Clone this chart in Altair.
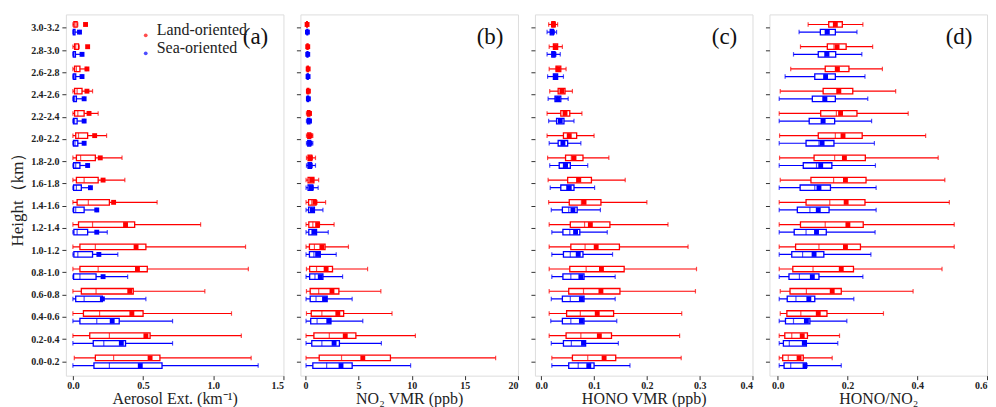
import altair as alt
import pandas as pd

HEIGHTS = ["0.0-0.2", "0.2-0.4", "0.4-0.6", "0.6-0.8", "0.8-1.0", "1.0-1.2", "1.2-1.4", "1.4-1.6",
           "1.6-1.8", "1.8-2.0", "2.0-2.2", "2.2-2.4", "2.4-2.6", "2.6-2.8", "2.8-3.0", "3.0-3.2"]
GROUPS = ["Land-oriented", "Sea-oriented"]
COLORS = ["#ff0000", "#0000ff"]

# each row: (whisker low, q1, median, q3, whisker high, mean), bottom (0.0-0.2) to top (3.0-3.2)
AER_LAND = [(0.01, 0.16, 0.29, 0.62, 1.27, 0.55), (0.0, 0.12, 0.26, 0.55, 1.20, 0.52),
            (0.0, 0.075, 0.19, 0.50, 1.13, 0.42), (0.0, 0.06, 0.165, 0.43, 0.94, 0.405),
            (0.0, 0.05, 0.18, 0.53, 1.25, 0.46), (0.0, 0.05, 0.16, 0.52, 1.23, 0.45),
            (0.0, 0.04, 0.14, 0.44, 0.91, 0.375), (0.0, 0.03, 0.11, 0.26, 0.60, 0.29),
            (0.0, 0.025, 0.08, 0.18, 0.37, 0.215), (0.0, 0.025, 0.055, 0.16, 0.35, 0.195),
            (0.0, 0.02, 0.04, 0.105, 0.24, 0.155), (0.0, 0.012, 0.035, 0.08, 0.18, 0.115),
            (0.0, 0.012, 0.03, 0.065, 0.14, 0.10), (0.0, 0.012, 0.025, 0.05, 0.095, 0.10),
            (0.0, 0.012, 0.02, 0.04, 0.045, 0.105), (0.0, 0.007, 0.015, 0.03, 0.035, 0.09)]
AER_SEA = [(0.0, 0.15, 0.26, 0.635, 1.32, 0.48), (0.0, 0.145, 0.22, 0.375, 0.71, 0.345),
           (0.0, 0.05, 0.17, 0.33, 0.71, 0.28), (0.0, 0.02, 0.08, 0.21, 0.52, 0.21),
           (0.0, 0.005, 0.05, 0.165, 0.39, 0.215), (0.0, 0.007, 0.035, 0.14, 0.32, 0.185),
           (0.0, 0.007, 0.03, 0.105, 0.245, 0.17), (0.0, 0.005, 0.02, 0.08, 0.17, 0.17),
           (0.0, 0.005, 0.025, 0.06, 0.125, 0.125), (0.0, 0.005, 0.02, 0.05, 0.105, 0.105),
           (0.0, 0.004, 0.015, 0.035, 0.08, 0.08), (0.0, 0.004, 0.012, 0.03, 0.08, 0.08),
           (0.0, 0.004, 0.012, 0.025, 0.08, 0.08), (0.0, 0.003, 0.01, 0.02, 0.065, 0.065),
           (0.0, 0.003, 0.008, 0.018, 0.065, 0.065), (0.0, 0.003, 0.008, 0.015, 0.047, 0.047)]

NO2_LAND = [(0.06, 1.3, 3.4, 8.0, 17.9, 5.4), (0.06, 0.8, 2.25, 4.75, 10.35, 3.75),
            (0.1, 0.55, 1.55, 3.6, 8.15, 3.05), (0.1, 0.45, 1.25, 3.15, 7.1, 2.5),
            (0.1, 0.4, 1.05, 2.55, 5.85, 1.95), (0.06, 0.38, 0.85, 1.85, 4.05, 1.55),
            (0.06, 0.32, 0.7, 1.3, 2.7, 1.15), (0.06, 0.3, 0.6, 1.0, 1.9, 0.9),
            (0.06, 0.25, 0.45, 0.8, 1.25, 0.6), (0.1, 0.25, 0.38, 0.6, 0.95, 0.47),
            (0.1, 0.22, 0.32, 0.5, 0.7, 0.45), (0.1, 0.2, 0.28, 0.42, 0.55, 0.38),
            (0.12, 0.18, 0.24, 0.32, 0.4, 0.28), (0.12, 0.17, 0.22, 0.28, 0.35, 0.26),
            (0.1, 0.15, 0.2, 0.25, 0.3, 0.22), (0.08, 0.12, 0.15, 0.18, 0.22, 0.16)]
NO2_SEA = [(0.06, 0.7, 2.0, 4.4, 9.9, 3.35), (0.06, 0.6, 1.55, 3.2, 7.15, 2.7),
           (0.06, 0.5, 1.1, 2.4, 5.4, 2.2), (0.06, 0.45, 1.0, 2.05, 4.4, 1.8),
           (0.06, 0.4, 0.9, 1.65, 3.5, 1.4), (0.06, 0.38, 0.8, 1.4, 2.9, 1.15),
           (0.06, 0.32, 0.6, 1.05, 2.15, 0.85), (0.06, 0.3, 0.55, 0.85, 1.65, 0.65),
           (0.06, 0.25, 0.45, 0.7, 1.2, 0.55), (0.1, 0.25, 0.38, 0.58, 0.95, 0.45),
           (0.1, 0.22, 0.32, 0.5, 0.7, 0.43), (0.1, 0.2, 0.28, 0.42, 0.55, 0.38),
           (0.12, 0.18, 0.25, 0.3, 0.35, 0.28), (0.12, 0.17, 0.22, 0.27, 0.32, 0.25),
           (0.1, 0.15, 0.2, 0.24, 0.28, 0.22), (0.1, 0.14, 0.18, 0.22, 0.26, 0.19)]

HONO_LAND = [(0.02, 0.059, 0.088, 0.141, 0.265, 0.119), (0.015, 0.047, 0.075, 0.133, 0.262, 0.11),
             (0.015, 0.048, 0.074, 0.137, 0.266, 0.106), (0.015, 0.052, 0.08, 0.149, 0.292, 0.113),
             (0.015, 0.054, 0.085, 0.157, 0.294, 0.114), (0.015, 0.056, 0.083, 0.148, 0.278, 0.104),
             (0.015, 0.055, 0.082, 0.13, 0.24, 0.093), (0.014, 0.053, 0.076, 0.113, 0.2, 0.081),
             (0.013, 0.05, 0.067, 0.095, 0.159, 0.071), (0.012, 0.046, 0.057, 0.079, 0.128, 0.062),
             (0.011, 0.042, 0.051, 0.067, 0.1, 0.053), (0.011, 0.037, 0.043, 0.054, 0.077, 0.045),
             (0.016, 0.032, 0.037, 0.045, 0.059, 0.039), (0.015, 0.028, 0.031, 0.037, 0.047, 0.032),
             (0.015, 0.023, 0.026, 0.031, 0.04, 0.027), (0.014, 0.02, 0.022, 0.026, 0.031, 0.023)]
HONO_SEA = [(0.02, 0.052, 0.07, 0.1, 0.168, 0.09), (0.019, 0.042, 0.057, 0.084, 0.146, 0.08),
            (0.018, 0.04, 0.056, 0.081, 0.143, 0.076), (0.019, 0.04, 0.055, 0.081, 0.14, 0.076),
            (0.02, 0.041, 0.056, 0.081, 0.14, 0.075), (0.02, 0.042, 0.055, 0.079, 0.135, 0.07),
            (0.02, 0.041, 0.054, 0.073, 0.125, 0.065), (0.019, 0.04, 0.052, 0.068, 0.112, 0.06),
            (0.017, 0.037, 0.048, 0.062, 0.101, 0.053), (0.016, 0.034, 0.042, 0.055, 0.088, 0.046),
            (0.015, 0.032, 0.039, 0.05, 0.075, 0.041), (0.014, 0.029, 0.034, 0.043, 0.062, 0.036),
            (0.013, 0.026, 0.031, 0.037, 0.051, 0.031), (0.012, 0.023, 0.026, 0.031, 0.042, 0.027),
            (0.011, 0.02, 0.023, 0.026, 0.036, 0.024), (0.011, 0.017, 0.02, 0.023, 0.029, 0.021)]

RATIO_LAND = [(0.004, 0.014, 0.03, 0.073, 0.156, 0.061), (0.004, 0.02, 0.04, 0.085, 0.177, 0.07),
              (0.007, 0.026, 0.066, 0.141, 0.303, 0.116), (0.007, 0.035, 0.082, 0.182, 0.388, 0.156),
              (0.004, 0.043, 0.101, 0.217, 0.471, 0.182), (0.004, 0.051, 0.118, 0.237, 0.506, 0.194),
              (0.004, 0.065, 0.136, 0.245, 0.506, 0.201), (0.004, 0.081, 0.149, 0.25, 0.492, 0.196),
              (0.007, 0.095, 0.16, 0.253, 0.479, 0.194), (0.005, 0.104, 0.163, 0.251, 0.46, 0.191),
              (0.005, 0.116, 0.165, 0.242, 0.424, 0.187), (0.004, 0.123, 0.168, 0.227, 0.374, 0.18),
              (0.007, 0.13, 0.17, 0.215, 0.338, 0.175), (0.037, 0.136, 0.165, 0.204, 0.3, 0.171),
              (0.065, 0.142, 0.161, 0.196, 0.272, 0.17), (0.087, 0.146, 0.16, 0.185, 0.244, 0.165)]
RATIO_SEA = [(0.004, 0.018, 0.037, 0.082, 0.182, 0.078), (0.004, 0.016, 0.033, 0.082, 0.172, 0.076),
             (0.004, 0.022, 0.045, 0.092, 0.198, 0.082), (0.004, 0.027, 0.052, 0.106, 0.218, 0.089),
             (0.004, 0.032, 0.062, 0.118, 0.244, 0.099), (0.004, 0.04, 0.071, 0.132, 0.267, 0.104),
             (0.004, 0.047, 0.081, 0.139, 0.279, 0.111), (0.004, 0.056, 0.092, 0.147, 0.282, 0.116),
             (0.004, 0.064, 0.106, 0.151, 0.282, 0.118), (0.004, 0.073, 0.111, 0.155, 0.28, 0.123),
             (0.004, 0.081, 0.118, 0.161, 0.277, 0.127), (0.004, 0.09, 0.125, 0.163, 0.269, 0.13),
             (0.004, 0.099, 0.13, 0.165, 0.258, 0.135), (0.021, 0.106, 0.135, 0.165, 0.25, 0.137),
             (0.045, 0.116, 0.135, 0.166, 0.241, 0.141), (0.061, 0.122, 0.136, 0.165, 0.227, 0.142)]

FONT = "Liberation Serif"
W, H = 218, 362


def make_df(land, sea):
    rows = []
    for grp, vals in ((GROUPS[0], land), (GROUPS[1], sea)):
        for h, (lo, q1, md, q3, hi, mn) in zip(HEIGHTS, vals):
            rows.append(dict(height=h, group=grp, low=lo, q1=q1, med=md, q3=q3, high=hi, mean=mn))
    return pd.DataFrame(rows)


def panel(df, domain, ticks, fmt, xtitle, tag, first=False):
    color_legend = None
    if first:
        color_legend = alt.Legend(orient="none", legendX=72, legendY=13, title=None,
                                  labelFont=FONT, labelFontSize=16, labelColor="#222",
                                  labelBaseline="alphabetic", labelLimit=200,
                                  symbolType="circle", symbolSize=14, symbolStrokeWidth=0,
                                  rowPadding=2, labelOffset=3, padding=0)
    cscale = alt.Scale(domain=GROUPS, range=COLORS)
    color = alt.Color("group:N", scale=cscale, legend=color_legend)
    yaxis = alt.Axis(labelFont=FONT, labelFontWeight="bold", labelFontSize=10, labelColor="#222",
                     title="Height（km）" if first else None, titleFont=FONT, titleFontSize=17,
                     titleFontWeight="normal", titleColor="#222", titlePadding=4,
                     labels=first, domain=False, tickSize=4, tickColor="#333", labelPadding=3)
    xaxis = alt.Axis(values=ticks, format=fmt, labelFont=FONT, labelFontWeight="bold",
                     labelFontSize=10, labelColor="#222", title=xtitle, titleFont=FONT,
                     titleFontSize=16, titleFontWeight="normal", titleColor="#222",
                     titlePadding=0, domain=False, tickSize=4, tickColor="#333", grid=False,
                     labelPadding=1)
    xscale = alt.Scale(domain=domain, nice=False, zero=False)
    base = alt.Chart(df).encode(
        y=alt.Y("height:N", sort=HEIGHTS[::-1], axis=yaxis,
                scale=alt.Scale(paddingInner=0.41, paddingOuter=0.33)),
        yOffset=alt.YOffset("group:N", sort=GROUPS, scale=alt.Scale(paddingInner=0.28)),
    )
    rule = base.mark_rule(strokeWidth=1.2).encode(
        x=alt.X("low:Q", scale=xscale, axis=xaxis), x2="high:Q", color=color)
    cap_lo = base.mark_tick(size=4.5, thickness=1.2).encode(x="low:Q", color=color)
    cap_hi = base.mark_tick(size=4.5, thickness=1.2).encode(x="high:Q", color=color)
    box = base.mark_bar(strokeWidth=1.3).encode(
        x="q1:Q", x2="q3:Q", fill=alt.value("white"),
        stroke=alt.Stroke("group:N", scale=cscale, legend=None))
    med = base.mark_tick(size=5.5, thickness=1.2).encode(x="med:Q", color=color)
    mean = base.mark_point(filled=True, shape="square", size=24, opacity=1).encode(
        x="mean:Q", color=color)
    label = alt.Chart(pd.DataFrame({"t": [tag]})).mark_text(
        font=FONT, fontSize=23, color="#111", align="center", baseline="middle").encode(
        text="t:N", x=alt.value(W - 28), y=alt.value(23))
    return alt.layer(rule, cap_lo, cap_hi, box, med, mean, label).properties(width=W, height=H)


pa = panel(make_df(AER_LAND, AER_SEA), [-0.05, 1.5], [0, 0.5, 1.0, 1.5], ".1f",
           "Aerosol Ext. (km⁻¹)", "(a)", first=True)
pb = panel(make_df(NO2_LAND, NO2_SEA), [-0.47, 20], [0, 5, 10, 15, 20], "d",
           "NO₂ VMR (ppb)", "(b)")
pc = panel(make_df(HONO_LAND, HONO_SEA), [-0.012, 0.4], [0, 0.1, 0.2, 0.3, 0.4], ".1f",
           "HONO VMR (ppb)", "(c)")
pd_ = panel(make_df(RATIO_LAND, RATIO_SEA), [-0.024, 0.6], [0, 0.2, 0.4, 0.6], ".1f",
            "HONO/NO₂", "(d)")

chart = alt.hconcat(pa, pb, pc, pd_, spacing=17, bounds="flush").resolve_scale(
    color="independent", stroke="independent", x="independent", y="independent"
).properties(
    padding={"left": 0, "top": 5, "right": 0, "bottom": 0}
).configure_view(
    stroke="#444", strokeWidth=1.5
).configure(background="white")

chart.save("out.html", embed_options={"renderer": "svg", "actions": False})
